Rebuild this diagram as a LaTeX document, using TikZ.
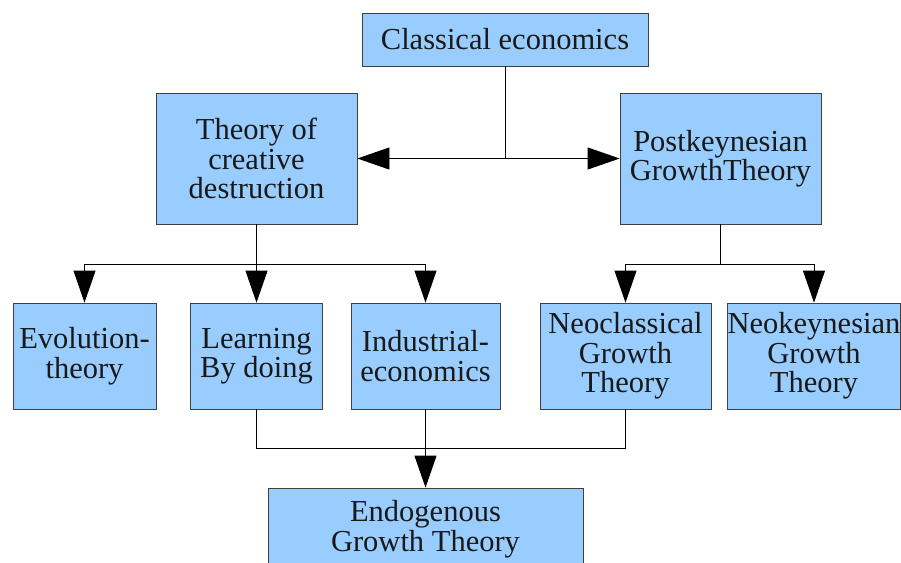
\documentclass[tikz,border=0pt]{standalone}
\usepackage{fontspec}
\setmainfont{Liberation Serif}
\usetikzlibrary{arrows.meta}
\definecolor{boxblue}{HTML}{99CCFF}
\begin{document}
\begin{tikzpicture}[x=1pt,y=-1pt,
  box/.style={draw=black!75, fill=boxblue, line width=0.8pt, inner sep=0pt,
    align=center, text=black!90, font=\fontsize{30.5}{29.5}\selectfont},
  conn/.style={line width=0.8pt},
  arr/.style={conn, -{Triangle[length=32pt,width=22pt]}}]
\useasboundingbox (0,0) rectangle (901,562);
\clip (0,0) rectangle (901,562);
\node[box, minimum width=286pt, minimum height=53pt] (classical) at (505,39.5) {Classical economics};
\node[box, minimum width=201pt, minimum height=131pt] (theory) at (256.5,158.5) {Theory of\\creative\\destruction};
\node[box, minimum width=201pt, minimum height=131pt] (post) at (720.5,158.5) {Postkeynesian\\GrowthTheory};
\node[box, minimum width=143pt, minimum height=106pt] (evo) at (84.5,356) {Evolution-\\theory};
\node[box, minimum width=132pt, minimum height=106pt] (learn) at (256.5,356) {Learning\\By doing};
\node[box, minimum width=149pt, minimum height=106pt] (ind) at (425.5,356) {Industrial-\\economics};
\node[box, minimum width=171pt, minimum height=106pt] (neoc) at (625.5,356) {Neoclassical\\Growth\\Theory};
\node[box, minimum width=172pt, minimum height=106pt] (neok) at (814,356) {Neokeynesian\\Growth\\Theory};
\node[box, minimum width=315pt, minimum height=82pt] (endo) at (425.5,529) {Endogenous\\Growth Theory};
\coordinate (j1) at (505,158.5);
\coordinate (j2) at (256.5,264);
\coordinate (j3) at (720.5,264);
\coordinate (j4) at (425.5,448);
\draw[conn] (classical.south) -- (j1);
\draw[arr] (j1) -- (theory.east);
\draw[arr] (j1) -- (post.west);
\draw[conn] (theory.south) -- (j2);
\draw[arr] (j2) -| (evo.north);
\draw[arr] (j2) -- (learn.north);
\draw[arr] (j2) -| (ind.north);
\draw[conn] (post.south) -- (j3);
\draw[arr] (j3) -| (neoc.north);
\draw[arr] (j3) -| (neok.north);
\draw[conn] (learn.south) |- (j4);
\draw[conn] (neoc.south) |- (j4);
\draw[conn] (ind.south) -- (j4);
\draw[arr] (j4) -- (endo.north);
\end{tikzpicture}
\end{document}
